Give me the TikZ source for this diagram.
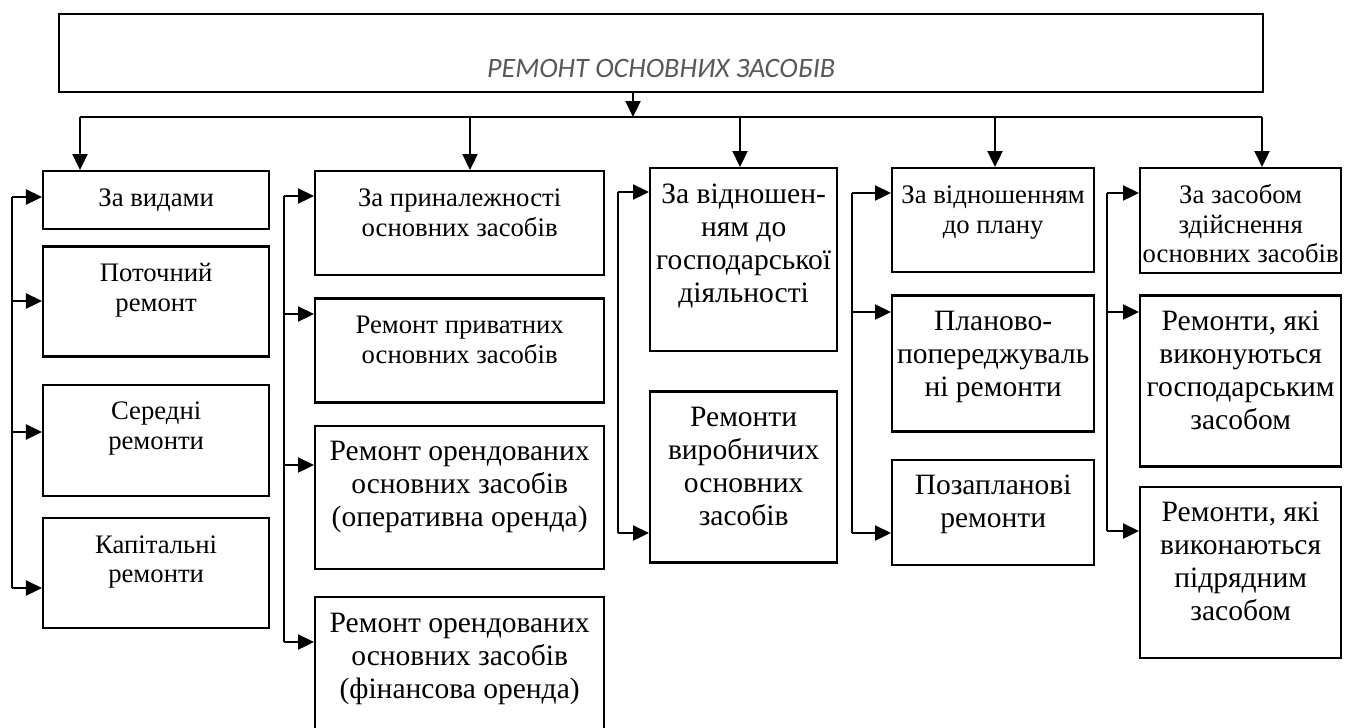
\documentclass[tikz,border=0pt]{standalone}
\usepackage{fontspec}
\setmainfont{Liberation Serif}
\newfontfamily\titlefont{Carlito}
\usetikzlibrary{arrows.meta,positioning}
\tikzset{every picture/.style={line width=1.3pt}}
\newcommand{\cell}[3]{\parbox[c][#2][t]{#1}{\centering\rule{0pt}{0.7cm}#3\par}}

\begin{document}
\begin{tikzpicture}[
    box/.style={draw, inner sep=0pt, anchor=north west},
    small/.style={font=\fontsize{15.2}{17}\selectfont},
    big/.style={font=\fontsize{16.8}{18.8}\selectfont},
    arr/.style={-{Triangle[length=0.32cm,width=0.30cm]}}
  ]
    \useasboundingbox (0,0) rectangle (27,-14.54);
    % title
    \node[draw, anchor=north west, minimum width=24.08cm, minimum height=1.56cm,
          inner sep=0pt, text height=0.96cm, text depth=0pt, text=black!65,
          font=\titlefont\itshape\fontsize{16}{19}\selectfont]
        (top) at (1.16,-0.26) {РЕМОНТ ОСНОВНИХ ЗАСОБІВ};
    % column 1
    \node[box, small] (v1) at (0.84,-3.40) {\cell{4.52cm}{1.16cm}{За видами}};
    \node[box, small, below=0.30cm of v1] (v2) {\cell{4.52cm}{2.20cm}{Поточний\\ремонт}};
    \node[box, small, below=0.52cm of v2] (v3) {\cell{4.52cm}{2.22cm}{Середні\\ремонти}};
    \node[box, small, below=0.40cm of v3] (v4) {\cell{4.52cm}{2.20cm}{Капітальні\\ремонти}};
    % column 2
    \node[box, small] (n1) at (6.28,-3.40) {\cell{5.78cm}{2.08cm}{За приналежності\\основних засобів}};
    \node[box, small, below=0.42cm of n1] (n2) {\cell{5.78cm}{2.08cm}{Ремонт приватних\\основних засобів}};
    \node[box, big, below=0.42cm of n2] (n3) {\cell{5.78cm}{2.86cm}{Ремонт орендованих\\основних засобів\\(оперативна оренда)}};
    \node[box, big, below=0.52cm of n3] (n4) {\cell{5.78cm}{3.02cm}{Ремонт орендованих\\основних засобів\\(фінансова оренда)}};
    % column 3
    \node[box, big] (g1) at (12.98,-3.34) {\cell{3.74cm}{3.66cm}{За відношен-\\ням до\\господарської\\діяльності}};
    \node[box, big, below=0.76cm of g1] (g2) {\cell{3.74cm}{3.42cm}{Ремонти\\виробничих\\основних\\засобів}};
    % column 4
    \node[box, small] (p1) at (17.82,-3.34) {\cell{4.04cm}{2.08cm}{За відношенням\\до плану}};
    \node[box, big, below=0.42cm of p1] (p2) {\cell{4.04cm}{2.72cm}{Планово-\\попереджуваль\\ні ремонти}};
    \node[box, big, below=0.52cm of p2] (p3) {\cell{4.04cm}{2.10cm}{Позапланові\\ремонти}};
    % column 5
    \node[box, small] (z1) at (22.78,-3.34) {\cell{4.02cm}{2.10cm}{За засобом\\здійснення\\основних засобів}};
    \node[box, big, below=0.40cm of z1] (z2) {\cell{4.02cm}{3.42cm}{Ремонти, які\\виконуються\\господарським\\засобом}};
    \node[box, big, below=0.36cm of z2] (z3) {\cell{4.02cm}{3.42cm}{Ремонти, які\\виконаються\\підрядним\\засобом}};

    % bus
    \coordinate (m) at (12.66,-2.34);
    \coordinate (d1) at (1.60,-2.34);
    \coordinate (d2) at (9.40,-2.34);
    \coordinate (d3) at (14.80,-2.34);
    \coordinate (d4) at (19.90,-2.34);
    \coordinate (d5) at (25.24,-2.34);
    \draw[arr] (m |- top.south) -- (m);
    \draw (d1) -- (d5);
    \draw[arr] (d1) -- (d1 |- v1.north);
    \draw[arr] (d2) -- (d2 |- n1.north);
    \draw[arr] (d3) -- (d3 |- g1.north);
    \draw[arr] (d4) -- (d4 |- p1.north);
    \draw[arr] (d5) -- (d5 |- z1.north);

    % side brackets
    \coordinate (a1) at (0.24,-3.94);
    \coordinate (a2) at (0.24,-6.02);
    \coordinate (a3) at (0.24,-8.64);
    \coordinate (a4) at (0.24,-11.76);
    \draw (a1) -- (a4);
    \draw[arr] (a1) -- (a1 -| v1.west);
    \draw[arr] (a2) -- (a2 -| v2.west);
    \draw[arr] (a3) -- (a3 -| v3.west);
    \draw[arr] (a4) -- (a4 -| v4.west);

    \coordinate (b1) at (5.68,-3.92);
    \coordinate (b2) at (5.68,-6.28);
    \coordinate (b3) at (5.68,-9.30);
    \coordinate (b4) at (5.68,-12.84);
    \draw (b1) -- (b4);
    \draw[arr] (b1) -- (b1 -| n1.west);
    \draw[arr] (b2) -- (b2 -| n2.west);
    \draw[arr] (b3) -- (b3 -| n3.west);
    \draw[arr] (b4) -- (b4 -| n4.west);

    \coordinate (c1) at (12.36,-3.84);
    \coordinate (c2) at (12.36,-10.66);
    \draw (c1) -- (c2);
    \draw[arr] (c1) -- (c1 -| g1.west);
    \draw[arr] (c2) -- (c2 -| g2.west);

    \coordinate (e1) at (17.04,-3.86);
    \coordinate (e2) at (17.04,-6.24);
    \coordinate (e3) at (17.04,-10.66);
    \draw (e1) -- (e3);
    \draw[arr] (e1) -- (e1 -| p1.west);
    \draw[arr] (e2) -- (e2 -| p2.west);
    \draw[arr] (e3) -- (e3 -| p3.west);

    \coordinate (f1) at (22.14,-3.86);
    \coordinate (f2) at (22.14,-6.24);
    \coordinate (f3) at (22.14,-10.62);
    \draw (f1) -- (f3);
    \draw[arr] (f1) -- (f1 -| z1.west);
    \draw[arr] (f2) -- (f2 -| z2.west);
    \draw[arr] (f3) -- (f3 -| z3.west);
\end{tikzpicture}
\end{document}
